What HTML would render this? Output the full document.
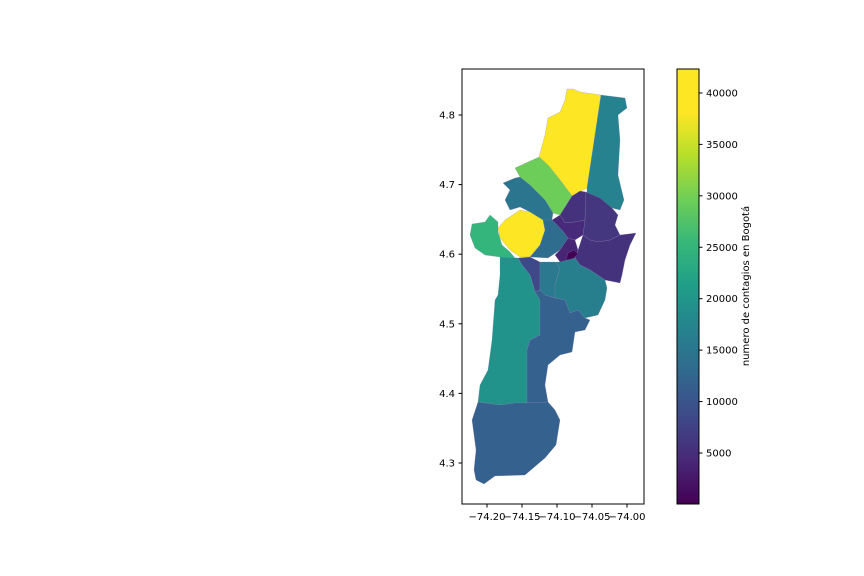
<!DOCTYPE html>
<html><head><meta charset="utf-8"><style>
body{margin:0;background:#fff}
svg{display:block;font-family:"DejaVu Sans","Liberation Sans",sans-serif}
</style></head><body>
<svg id="fig" width="864" height="576" viewBox="0 0 864 576">
<defs><linearGradient id="vir" x1="0" y1="1" x2="0" y2="0">
<stop offset="0" stop-color="#440154"/><stop offset="0.1" stop-color="#482878"/><stop offset="0.2" stop-color="#3e4989"/><stop offset="0.3" stop-color="#31688e"/><stop offset="0.4" stop-color="#26828e"/><stop offset="0.5" stop-color="#1f9e89"/><stop offset="0.6" stop-color="#35b779"/><stop offset="0.7" stop-color="#6ece58"/><stop offset="0.8" stop-color="#b5de2b"/><stop offset="0.9" stop-color="#fde725"/><stop offset="1" stop-color="#fde725"/>
</linearGradient></defs>
<g id="map"></g>
<rect x="462" y="69" width="182" height="435" fill="none" stroke="#000" stroke-width="1"/>
<g id="axes"></g>
<rect x="677" y="69" width="22" height="435" fill="url(#vir)" stroke="#000" stroke-width="1"/>
<g id="cbar"></g>
<text x="749" y="286" font-size="10" text-anchor="middle" transform="rotate(-90 749 286)">numero de contagios en Bogotá</text>
</svg>
<script>
const regionNames=["suba","usaquen","engativa","fontibon","kennedy","bosa","teusaquillo-west","barrios-unidos","chapinero","teusaquillo","santa-fe","martires","candelaria","puente-aranda-strip","antonio-narino","san-cristobal","ciudad-bolivar","usme","sumapaz"];
const regionValues=[39500,17000,29500,15000,40000,25000,13500,5500,6000,4500,5500,4000,200,8500,15500,16500,19500,11800,11800];
const xTicks=[-74.20,-74.15,-74.10,-74.05,-74.00];
const yTicks=[4.3,4.4,4.5,4.6,4.7,4.8];
const cbTicks=[5000,10000,15000,20000,25000,30000,35000,40000];
const vMin=40, vMax=42330;
// outlines, in image-grid units (converted to lon/lat below)
const tracedOutline=[
"567,89 573,89 580,92 601,95 587,188 572,196 560,180 548,165 539,157 545,135 548,118 560,112 565,100",
"601,95 625,98 627,108 618,115 620,140 618,175 624,200 620,210 612,208 600,200 587,193 587,188",
"515,168 539,157 548,165 560,180 572,196 560,215 553,213 545,200 530,185 520,177",
"503,183 515,178 520,177 530,185 545,200 553,213 552,220 545,228 540,225 530,212 520,207 510,210 505,200 510,190",
"505,220 520,210 530,212 543,220 545,230 540,245 530,257 520,257 510,250 500,238 498,228",
"472,224 485,222 490,215 498,222 498,232 502,245 510,252 515,258 500,257 485,255 475,248 470,235",
"543,220 552,220 562,230 568,238 560,250 548,258 530,257 540,245 545,230",
"560,215 572,196 580,191 586,192 585,220 575,222 565,223",
"586,192 600,198 612,208 618,215 615,225 620,235 610,240 598,242 590,240 583,235 585,220",
"565,223 575,222 585,220 583,235 575,240 568,238 562,230 552,220 560,215",
"583,235 590,240 598,242 610,240 620,235 636,233 630,245 625,260 622,275 620,283 605,280 590,270 580,265 575,258 578,250",
"568,238 575,240 578,250 575,258 570,262 560,262 555,255 560,250",
"568,253 574,250 578,254 572,260 566,260",
"518,258 530,257 540,262 540,290 535,292 530,275 522,265",
"540,262 555,262 560,268 555,285 555,298 545,295 540,290",
"555,262 560,262 575,258 580,265 590,270 605,280 607,288 605,300 598,315 585,318 578,310 570,313 565,300 555,298 555,285 560,268",
"500,257 518,258 522,265 530,275 535,292 540,300 540,335 530,340 527,350 527,403 515,403 500,405 478,402 480,385 488,370 492,340 495,300 498,295 500,275",
"535,292 540,290 545,295 555,298 565,300 570,313 578,310 585,318 590,320 585,330 575,332 572,352 560,355 548,365 545,385 548,402 527,403 527,350 530,340 540,335 540,300",
"478,402 500,405 515,403 527,403 548,402 555,410 560,420 556,445 545,458 525,475 495,476 484,484 476,480 474,470 476,450 472,420"];
const geo=tracedOutline.map(s=>s.split(" ").map(p=>{const [a,b]=p.split(",").map(Number);return [-74.2+(a-487)/700,4.8-(b-115)/696];}));
function X(lon){return 487+(lon+74.2)*700;}
function Y(lat){return 115+(4.8-lat)*696;}
const vs=[[0,[68,1,84]],[0.1,[72,40,120]],[0.2,[62,73,137]],[0.3,[49,104,142]],[0.4,[38,130,142]],[0.5,[31,158,137]],[0.6,[53,183,121]],[0.7,[110,206,88]],[0.8,[181,222,43]],[0.9,[253,231,37]],[1,[253,231,37]]];
function vir(t){t=Math.max(0,Math.min(1,t));for(let i=0;i<vs.length-1;i++){if(t<=vs[i+1][0]){const f=(t-vs[i][0])/(vs[i+1][0]-vs[i][0]);const c=vs[i][1].map((v,k)=>Math.round(v+(vs[i+1][1][k]-v)*f));return `rgb(${c})`;}}return "rgb(253,231,37)";}
const NS="http://www.w3.org/2000/svg";
const map=document.getElementById("map");
geo.forEach((poly,i)=>{const p=document.createElementNS(NS,"polygon");
p.setAttribute("points",poly.map(q=>X(q[0]).toFixed(1)+","+Y(q[1]).toFixed(1)).join(" "));
p.setAttribute("fill",vir((regionValues[i]-vMin)/(vMax-vMin)));
p.setAttribute("stroke","#8a7fb0");p.setAttribute("stroke-width","0.4");p.setAttribute("stroke-opacity","0.6");


map.appendChild(p);});
const ax=document.getElementById("axes");
function add(tag,attrs,txt){const e=document.createElementNS(NS,tag);for(const k in attrs)e.setAttribute(k,attrs[k]);if(txt!==undefined)e.textContent=txt;return e;}
xTicks.forEach(v=>{const x=X(v);
const l=add("line",{x1:x,x2:x,y1:504,y2:507.5,stroke:"#000"});


ax.appendChild(l);
const t=add("text",{x:x,y:520,"font-size":10,"text-anchor":"middle"},"\u2212"+Math.abs(v).toFixed(2));


ax.appendChild(t);});
yTicks.forEach(v=>{const y=Y(v);
const l=add("line",{x1:458.5,x2:462,y1:y,y2:y,stroke:"#000"});


ax.appendChild(l);
const t=add("text",{x:455,y:y+3.5,"font-size":10,"text-anchor":"end"},v.toFixed(1));


ax.appendChild(t);});
const cb=document.getElementById("cbar");
cbTicks.forEach(v=>{const y=504-(v-vMin)/(vMax-vMin)*435;
const l=add("line",{x1:699,x2:702.5,y1:y,y2:y,stroke:"#000"});


cb.appendChild(l);
const t=add("text",{x:706,y:y+3.5,"font-size":10},String(v));


cb.appendChild(t);});
</script>
</body></html>
